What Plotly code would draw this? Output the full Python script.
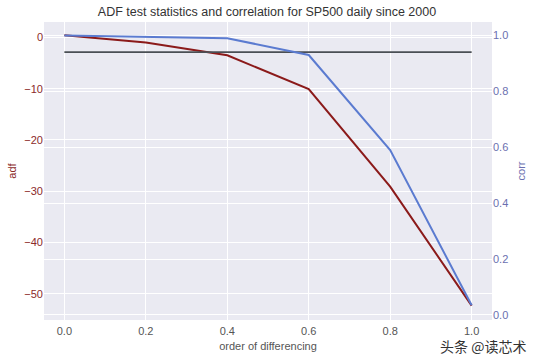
import plotly.graph_objects as go

orders = [0.0, 0.2, 0.4, 0.6, 0.8, 1.0]
adf_values = [0.4, -1.0, -3.5, -10.1, -29.1, -52.3]
corr_values = [1.0, 0.996, 0.99, 0.93, 0.59, 0.035]
crit_value = -2.86
crit_x = [0.0, 1.0]

adf_color = "#8b1a1a"
corr_color = "#5b7bd0"
font = "Liberation Sans, Arial, sans-serif"

fig = go.Figure()
fig.add_trace(go.Scatter(x=orders, y=adf_values, mode="lines",
                         line=dict(color=adf_color, width=2), yaxis="y"))
fig.add_trace(go.Scatter(x=crit_x, y=[crit_value, crit_value], mode="lines",
                         line=dict(color="#4a4f55", width=1.8), yaxis="y"))
fig.add_trace(go.Scatter(x=orders, y=corr_values, mode="lines",
                         line=dict(color=corr_color, width=2), yaxis="y2"))

fig.update_layout(
    width=534, height=360,
    margin=dict(l=44, r=42, t=22, b=40, autoexpand=False),
    paper_bgcolor="white", plot_bgcolor="#eaeaf2",
    showlegend=False,
    font=dict(family=font, size=11, color="#555555"),
    title=dict(text="ADF test statistics and correlation for SP500 daily since 2000",
               x=0.5, xanchor="center", y=0.969, yanchor="middle",
               font=dict(size=12.5, color="#333333")),
    xaxis=dict(range=[-0.05, 1.05], tickvals=orders,
               ticktext=["0.0", "0.2", "0.4", "0.6", "0.8", "1.0"],
               showgrid=True, gridcolor="white", gridwidth=1.2, zeroline=False,
               ticks="", showline=False, automargin=False, ticklabelstandoff=3,
               title=dict(text="order of differencing", standoff=6,
                          font=dict(size=11, color="#555555")),
               tickfont=dict(color="#555555")),
    yaxis=dict(range=[-55.1, 3.0], tickvals=[0, -10, -20, -30, -40, -50],
               showgrid=True, gridcolor="white", gridwidth=1.2, zeroline=False,
               ticks="", showline=False, automargin=False,
               tickfont=dict(color="#8b2a2a"),
               title=dict(text="adf", standoff=5, font=dict(size=11, color="#8b2a2a"))),
    yaxis2=dict(range=[-0.018, 1.048], overlaying="y", side="right",
                tickvals=[0.0, 0.2, 0.4, 0.6, 0.8, 1.0],
                ticktext=["0.0", "0.2", "0.4", "0.6", "0.8", "1.0"],
                showgrid=True, gridcolor="white", gridwidth=1.2, zeroline=False,
                ticks="", showline=False, automargin=False,
                tickfont=dict(color="#6b6fb0"),
                title=dict(text="corr", standoff=10, font=dict(size=11, color="#6b6fb0"))),
)

fig.add_annotation(text="头条 @读芯术", xref="paper", yref="paper",
                   x=1.08, y=-0.087, xanchor="right", yanchor="middle", showarrow=False,
                   font=dict(family="Noto Sans CJK SC", size=14, color="#333333"))

fig.write_html("out.html", config={"displayModeBar": False},
               post_script="document.body.style.margin='0';")
